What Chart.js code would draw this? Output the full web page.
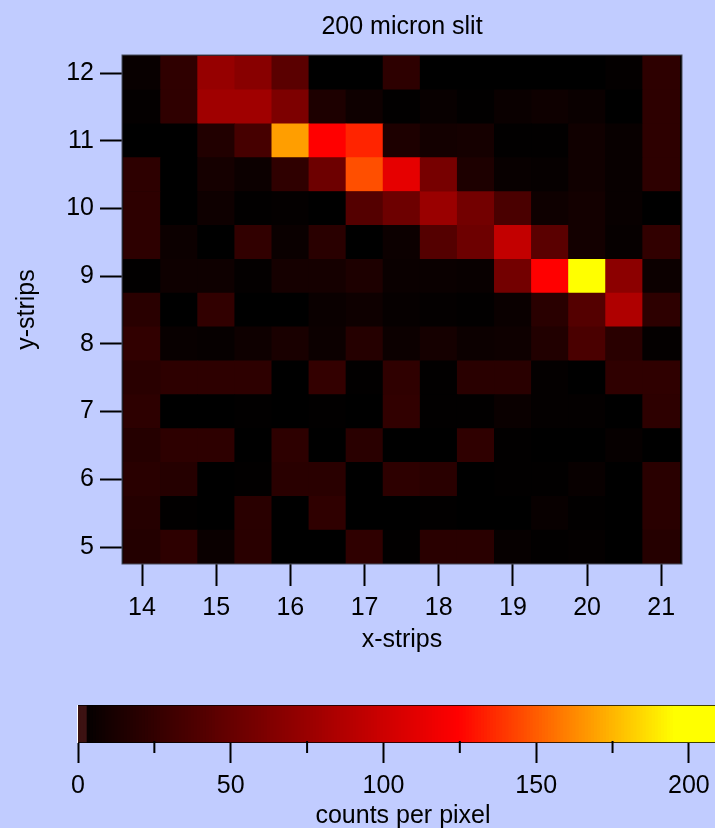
<!DOCTYPE html>
<html>
<head>
<meta charset="utf-8">
<script src="https://cdn.jsdelivr.net/npm/chart.js@4"></script>
<style>
  html, body { margin: 0; padding: 0; background: #c1ccff; width: 715px; height: 828px; overflow: hidden; }
  canvas { position: absolute; left: 0; }
  #mapCanvas { top: 0; }
  #barCanvas { top: 690px; }
</style>
</head>
<body>
<canvas id="mapCanvas" width="715" height="670"></canvas>
<canvas id="barCanvas" width="728" height="150"></canvas>
<script>
// strip positions of the pixel centres
var xStrips = [14, 14.5, 15, 15.5, 16, 16.5, 17, 17.5, 18, 18.5, 19, 19.5, 20, 20.5, 21];
var yStrips = [12, 11.5, 11, 10.5, 10, 9.5, 9, 8.5, 8, 7.5, 7, 6.5, 6, 5.5, 5];

// counts per pixel, one row per y strip (top row first)
var row12  = [4, 23, 73, 66, 44, 0, 0, 22, 0, 0, 0, 0, 0, 2, 22];
var row115 = [2, 23, 78, 78, 61, 14, 7, 1, 4, 1, 5, 7, 5, 0, 22];
var row11  = [0, 0, 16, 34, 168, 124, 134, 14, 9, 10, 1, 1, 8, 4, 22];
var row105 = [22, 0, 10, 6, 23, 53, 146, 112, 58, 14, 4, 3, 8, 4, 22];
var row10  = [22, 0, 7, 1, 2, 0, 41, 53, 75, 56, 36, 7, 9, 4, 0];
var row95  = [22, 6, 0, 24, 5, 20, 0, 6, 41, 53, 95, 44, 9, 3, 24];
var row9   = [1, 7, 7, 2, 10, 10, 14, 5, 5, 4, 56, 124, 200, 68, 6];
var row85  = [20, 0, 24, 0, 0, 5, 7, 3, 2, 1, 5, 20, 41, 85, 22];
var row8   = [24, 4, 3, 7, 12, 6, 18, 6, 10, 6, 7, 16, 36, 20, 2];
var row75  = [20, 22, 22, 22, 0, 25, 1, 23, 1, 20, 20, 2, 0, 23, 23];
var row7   = [22, 0, 0, 1, 0, 1, 0, 24, 1, 1, 5, 2, 2, 0, 22];
var row65  = [18, 22, 22, 0, 22, 0, 20, 0, 0, 23, 1, 0, 0, 3, 0];
var row6   = [20, 18, 0, 1, 20, 20, 0, 22, 20, 0, 1, 1, 4, 0, 20];
var row55  = [18, 1, 0, 20, 0, 23, 0, 0, 1, 0, 0, 4, 1, 0, 20];
var row5   = [17, 22, 5, 20, 0, 0, 23, 1, 20, 20, 3, 1, 2, 0, 18];
var counts = [row12, row115, row11, row105, row10, row95, row9, row85, row8, row75, row7, row65, row6, row55, row5];

var xTickStep = 1;
var yTickStep = 1;
var barMajorStep = 50;
var barMinorTicks = [25, 75, 125, 175];

var fontFamily = '"Liberation Sans", Arial, sans-serif';

// black -> red up to 124 counts, red -> yellow up to 195 counts
function heatColor(v) {
    var r = Math.min(255, Math.round(v / 124 * 255));
    var g = v <= 124 ? 0 : Math.min(255, Math.round((v - 124) / 71 * 255));
    return 'rgb(' + r + ',' + g + ',0)';
}

// the lowest levels of the colour bar are brownish, not black
function barColor(v) {
    return v < 3 ? 'rgb(60,18,18)' : heatColor(v);
}

var cells = [];
yStrips.forEach(function(y, i) {
    xStrips.forEach(function(x, j) {
        cells.push({ x: x, y: [y - 0.25, y + 0.25], v: counts[i][j] });
    });
});

var levels = [];
for (var lv = 0; lv <= 213; lv++) {
    levels.push({ x: lv + 0.5, y: [0, 1], v: lv });
}

// black floor under the cells and the thin frame round the plot
var framePlugin = {
    id: 'frame',
    beforeDatasetsDraw: function(chart) {
        var a = chart.chartArea, c = chart.ctx;
        c.save();
        c.fillStyle = '#000';
        c.fillRect(a.left, a.top, a.width, a.height);
        c.restore();
    },
    afterDatasetsDraw: function(chart) {
        var a = chart.chartArea, c = chart.ctx;
        c.save();
        c.strokeStyle = '#4a4d5c';
        c.lineWidth = 1;
        c.strokeRect(a.left, a.top, a.width, a.height);
        c.restore();
    }
};

var mapChart = new Chart(document.getElementById('mapCanvas').getContext('2d'), {
    type: 'bar',
    data: {
        datasets: [{
            data: cells,
            xAxisID: 'x',
            yAxisID: 'y',
            backgroundColor: function(ctx) { return ctx.raw ? heatColor(ctx.raw.v) : '#000'; },
            borderWidth: 0,
            barPercentage: 1,
            categoryPercentage: 1
        }]
    },
    options: {
        responsive: false,
        animation: false,
        layout: { padding: { left: 0, right: 33, top: 0, bottom: 0 } },
        plugins: {
            legend: { display: false },
            tooltip: { enabled: false }
        },
        scales: {
            x: {
                type: 'linear',
                min: 13.73,
                max: 21.28,
                offset: false,
                afterFit: function(scale) { scale.height = 106; },
                border: { display: false },
                grid: { offset: false, drawOnChartArea: false, tickLength: 22, tickWidth: 2, tickColor: '#000' },
                ticks: {
                    stepSize: xTickStep,
                    includeBounds: false,
                    autoSkip: false,
                    maxRotation: 0,
                    color: '#000',
                    padding: 7,
                    font: { family: fontFamily, size: 25 }
                },
                title: {
                    display: true,
                    text: 'x-strips',
                    color: '#000',
                    font: { family: fontFamily, size: 25 },
                    padding: { top: 0, bottom: 15 }
                }
            },
            // empty top axis, only so the title centres over the plot
            xTop: {
                type: 'linear',
                axis: 'x',
                position: 'top',
                min: 13.73,
                max: 21.28,
                offset: false,
                afterFit: function(scale) { scale.height = 55; },
                border: { display: false },
                grid: { display: false },
                ticks: { display: false },
                title: {
                    display: true,
                    text: '200 micron slit',
                    color: '#000',
                    font: { family: fontFamily, size: 25 },
                    padding: { top: 12, bottom: 0 }
                }
            },
            y: {
                type: 'linear',
                min: 4.749,
                max: 12.266,
                afterFit: function(scale) { scale.width = 122; },
                border: { display: false },
                grid: { drawOnChartArea: false, tickLength: 22, tickWidth: 2, tickColor: '#000' },
                ticks: {
                    stepSize: yTickStep,
                    includeBounds: false,
                    autoSkip: false,
                    color: '#000',
                    padding: 6,
                    font: { family: fontFamily, size: 25 }
                },
                title: {
                    display: true,
                    text: 'y-strips',
                    color: '#000',
                    font: { family: fontFamily, size: 25 },
                    padding: { top: 12, bottom: 0 }
                }
            }
        }
    },
    plugins: [framePlugin]
});

// shorter minor ticks and the edge lines of the colour bar
var barTicksPlugin = {
    id: 'barTicks',
    beforeDatasetsDraw: function(chart) {
        var a = chart.chartArea, c = chart.ctx;
        c.save();
        c.fillStyle = '#000';
        c.fillRect(a.left, a.top, a.width, a.height);
        c.restore();
    },
    afterDatasetsDraw: function(chart) {
        var a = chart.chartArea, c = chart.ctx, sx = chart.scales.x;
        c.save();
        c.strokeStyle = '#000';
        c.lineWidth = 2;
        barMinorTicks.forEach(function(v) {
            var px = sx.getPixelForValue(v);
            c.beginPath();
            c.moveTo(px, a.bottom - 2);
            c.lineTo(px, a.bottom + 10);
            c.stroke();
        });
        c.lineWidth = 1;
        c.strokeStyle = 'rgba(0,0,0,0.75)';
        c.beginPath();
        c.moveTo(a.left, a.top + 0.5);
        c.lineTo(a.right, a.top + 0.5);
        c.moveTo(a.left, a.bottom - 0.5);
        c.lineTo(a.right, a.bottom - 0.5);
        c.stroke();
        c.strokeStyle = '#fff';
        c.beginPath();
        c.moveTo(a.left - 0.5, a.top);
        c.lineTo(a.left - 0.5, a.bottom);
        c.stroke();
        c.restore();
    }
};

var barChart = new Chart(document.getElementById('barCanvas').getContext('2d'), {
    type: 'bar',
    data: {
        datasets: [{
            data: levels,
            backgroundColor: function(ctx) { return ctx.raw ? barColor(ctx.raw.v) : '#000'; },
            borderWidth: 0,
            barPercentage: 1.3,
            categoryPercentage: 1
        }]
    },
    options: {
        responsive: false,
        animation: false,
        layout: { padding: { left: 78, right: 0, top: 15, bottom: 0 } },
        plugins: { legend: { display: false }, tooltip: { enabled: false } },
        scales: {
            x: {
                type: 'linear',
                min: 0,
                max: 212.8,
                offset: false,
                afterFit: function(scale) { scale.height = 97; },
                border: { display: false },
                grid: { offset: false, drawOnChartArea: false, tickLength: 20, tickWidth: 2, tickColor: '#000' },
                ticks: {
                    stepSize: barMajorStep,
                    includeBounds: false,
                    autoSkip: false,
                    maxRotation: 0,
                    color: '#000',
                    padding: 8,
                    font: { family: fontFamily, size: 25 }
                },
                title: {
                    display: true,
                    text: 'counts per pixel',
                    color: '#000',
                    font: { family: fontFamily, size: 25 },
                    padding: { top: 0, bottom: 9 }
                }
            },
            y: { display: false, min: 0, max: 1 }
        }
    },
    plugins: [barTicksPlugin]
});
</script>
</body>
</html>
